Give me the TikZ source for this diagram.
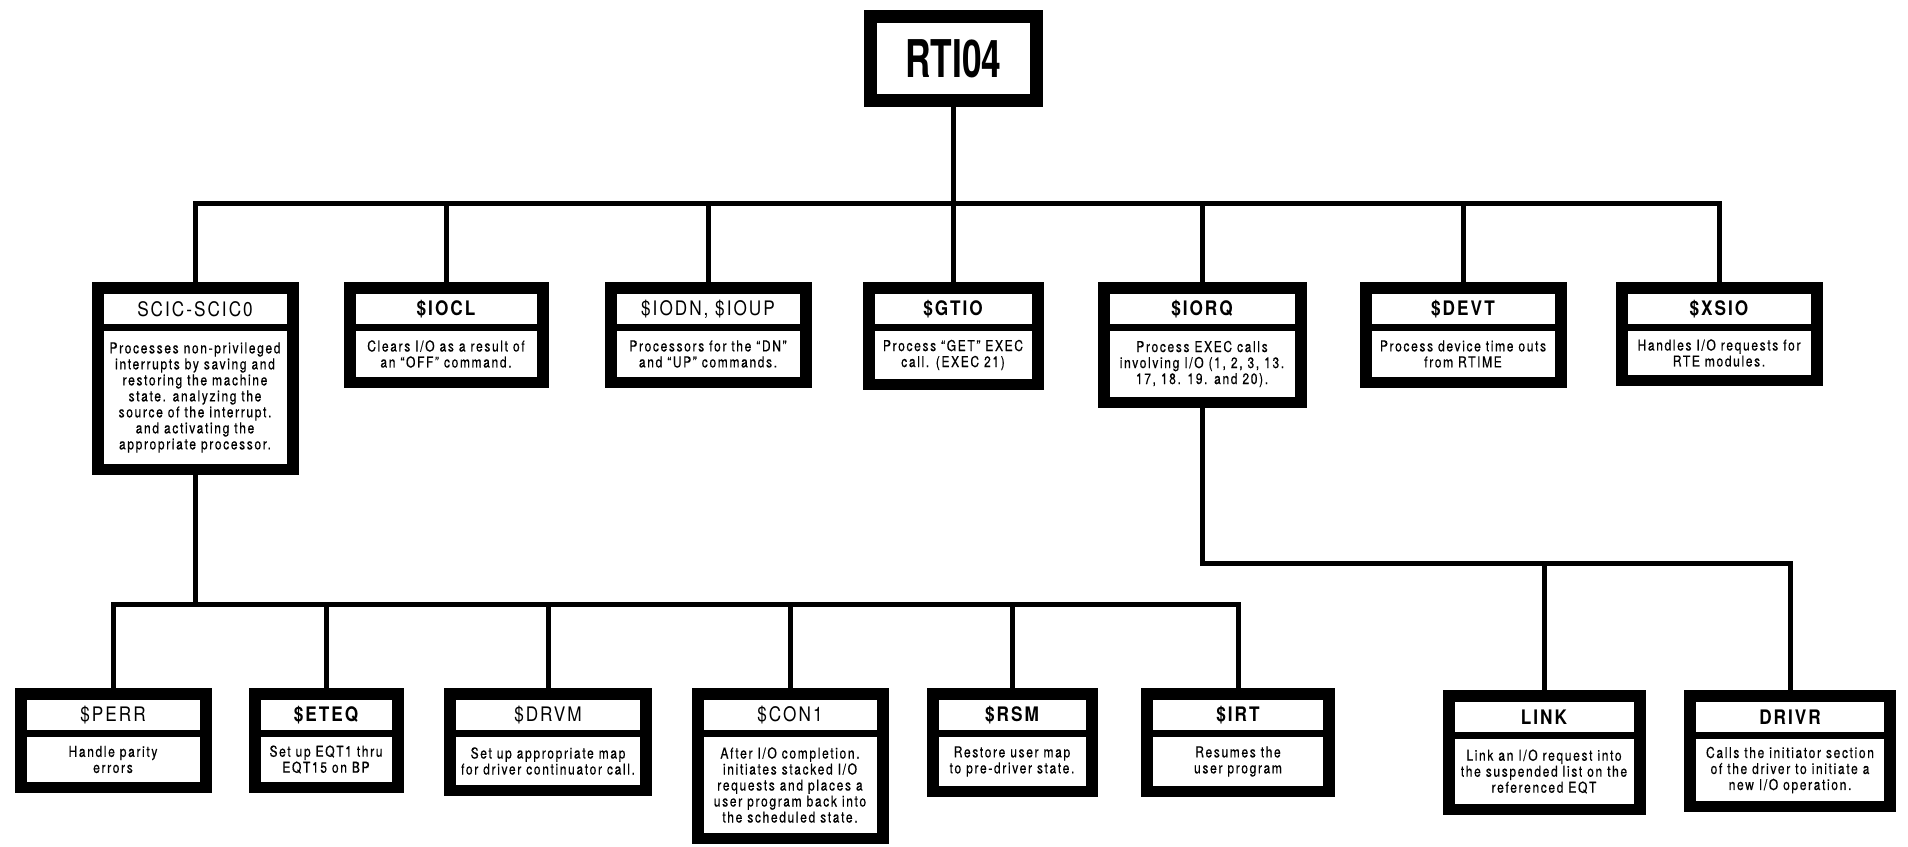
\documentclass[tikz,border=0pt]{standalone}
\usepackage{fontspec}
\setmainfont{TeX Gyre Heros}
\newfontfamily\titlefont[FakeStretch=0.68]{TeX Gyre Heros}
\newfontfamily\headfont[FakeStretch=0.86,LetterSpace=10]{TeX Gyre Heros}
\newfontfamily\bodyfont[FakeStretch=0.80,LetterSpace=11,FakeBold=0.5]{TeX Gyre Heros}

\tikzset{
  conn/.style={line width=5pt, line cap=butt, line join=miter},
  outerbox/.style={rectangle, fill=black, draw=none, inner sep=0pt, outer sep=0pt, anchor=north},
  headtext/.style={inner sep=0pt, font=\headfont\bfseries\fontsize{20}{22}\selectfont},
  bodytext/.style={inner sep=0pt, align=center, font=\bodyfont\fontsize{15}{16}\selectfont},
}

% \modbox{name}{centre x}{top y}{width}{height}{header}{description}
\newcommand\modbox[7]{%
  \node[outerbox, minimum width=#4pt, minimum height=#5pt] (#1) at (#2,#3) {};
  \fill[white] ({#2-#4/2+12},{#3+12}) rectangle ({#2+#4/2-12},{#3+42});
  \node[headtext] at (#2,{#3+27.5}) {#6};
  \fill[white] ({#2-#4/2+12},{#3+49}) rectangle ({#2+#4/2-12},{#3+#5-11});
  \node[bodytext] at (#2,{#3+(38+#5)/2}) {#7};
}

\begin{document}
\begin{tikzpicture}[x=1pt,y=-1pt]
  \useasboundingbox[fill=white] (0,0) rectangle (1908,846);

  % root module
  \node[outerbox, minimum width=179pt, minimum height=97pt] (rti) at (953.5,10) {};
  \fill[white] (877,23) rectangle (1030,94);
  \node[inner sep=0pt, font=\titlefont\bfseries\fontsize{52}{56}\selectfont] at (953.5,58.5) {RTI04};

  % first level
  \modbox{scic}{195}{282}{207}{193}{\mdseries SCIC-SCIC0}
    {Processes non-privileged\\interrupts by saving and\\restoring the machine\\state. analyzing the\\source of the interrupt.\\and activating the\\appropriate processor.}
  \modbox{iocl}{446}{282}{205}{106}{\$IOCL}
    {Clears I/O as a result of\\an “OFF” command.}
  \modbox{iodn}{708}{282}{207}{106}{\mdseries \$IODN, \$IOUP}
    {Processors for the “DN”\\and “UP” commands.}
  \modbox{gtio}{953}{282}{181}{108}{\$GTIO}
    {Process “GET” EXEC\\call. (EXEC 21)}
  \modbox{iorq}{1202}{282}{209}{126}{\$IORQ}
    {Process EXEC calls\\involving I/O (1, 2, 3, 13.\\17, 18. 19. and 20).}
  \modbox{devt}{1463}{282}{207}{106}{\$DEVT}
    {Process device time outs\\from RTIME}
  \modbox{xsio}{1719}{282}{207}{104}{\$XSIO}
    {Handles I/O requests for\\RTE modules.}

  % modules under SCIC-SCIC0
  \modbox{perr}{113}{688}{197}{105}{\mdseries \$PERR}
    {Handle parity\\errors}
  \modbox{eteq}{326}{688}{155}{105}{\$ETEQ}
    {Set up EQT1 thru\\EQT15 on BP}
  \modbox{drvm}{548}{688}{208}{108}{\mdseries \$DRVM}
    {Set up appropriate map\\for driver continuator call.}
  \modbox{con1}{790}{688}{197}{156}{\mdseries \$CON1}
    {After I/O completion.\\initiates stacked I/O\\requests and places a\\user program back into\\the scheduled state.}
  \modbox{rsm}{1012}{688}{171}{109}{\$RSM}
    {Restore user map\\to pre-driver state.}
  \modbox{irt}{1238}{688}{194}{109}{\$IRT}
    {Resumes the\\user program}

  % modules under $IORQ
  \modbox{link}{1544}{690}{203}{125}{LINK}
    {Link an I/O request into\\the suspended list on the\\referenced EQT}
  \modbox{drivr}{1790}{690}{212}{122}{DRIVR}
    {Calls the initiator section\\of the driver to initiate a\\new I/O operation.}

  % bus levels
  \coordinate (bar1) at (0,203);
  \coordinate (bar2) at (0,604);
  \coordinate (bar3) at (0,563);

  % connectors
  \draw[conn] (rti.south) -- (rti.south |- bar1);
  \draw[conn] (scic.north) -- (scic.north |- bar1) -- (xsio.north |- bar1) -- (xsio.north);
  \foreach \n in {iocl,iodn,gtio,iorq,devt}
    \draw[conn] (\n.north) -- (\n.north |- bar1);

  \draw[conn] (scic.south) -- (scic.south |- bar2);
  \draw[conn] (perr.north) -- (perr.north |- bar2) -- (irt.north |- bar2) -- (irt.north);
  \foreach \n in {eteq,drvm,con1,rsm}
    \draw[conn] (\n.north) -- (\n.north |- bar2);

  \draw[conn] (iorq.south) -- (iorq.south |- bar3) -- (drivr.north |- bar3) -- (drivr.north);
  \draw[conn] (link.north) -- (link.north |- bar3);
\end{tikzpicture}
\end{document}
